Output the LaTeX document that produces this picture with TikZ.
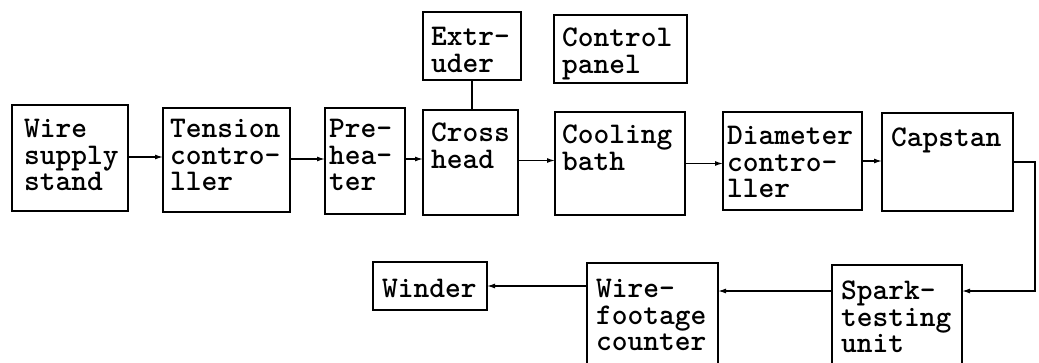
\documentclass[tikz,border=0pt]{standalone}
\usepackage{fontspec}
\usetikzlibrary{arrows.meta}
\tikzset{
  box/.style={draw, line width=1.6pt, inner sep=0pt, outer sep=0pt, anchor=north west},
  txt/.style={anchor=north west, inner sep=0pt, align=left, font=\ttfamily\bfseries\fontsize{30}{26.5}\selectfont},
  conn/.style={line width=1.3pt, -{Latex[length=8pt,width=5pt]}},
  plain/.style={line width=1.3pt}
}
\begin{document}
\begin{tikzpicture}[x=1pt,y=-1pt]
\useasboundingbox (0,0) rectangle (1039,362);
% boxes
\node[box, minimum width=116pt, minimum height=106pt] (ws) at (12,105) {};
\node[box, minimum width=127pt, minimum height=104pt] (tc) at (163,108) {};
\node[box, minimum width=80pt, minimum height=106pt] (ph) at (325,108) {};
\node[box, minimum width=95pt, minimum height=105pt] (ch) at (423,110) {};
\node[box, minimum width=130pt, minimum height=103pt] (cb) at (555,112) {};
\node[box, minimum width=139pt, minimum height=98pt] (dc) at (723,112) {};
\node[box, minimum width=131pt, minimum height=98pt] (cap) at (882,113) {};
\node[box, minimum width=98pt, minimum height=68pt] (ex) at (423,12) {};
\node[box, minimum width=133pt, minimum height=68pt] (cp) at (554,15) {};
\node[box, minimum width=130pt, minimum height=130pt] (sp) at (832,265) {};
\node[box, minimum width=131pt, minimum height=130pt] (wf) at (587,263) {};
\node[box, minimum width=114pt, minimum height=48pt] (wi) at (373,262) {};
% texts
\node[txt] (wsT) at ([shift={(12,14)}]ws.north west) {Wire\\supply\\stand};
\node[txt] (tcT) at ([shift={(7,11)}]tc.north west) {Tension\\contro-\\ller};
\node[txt] (phT) at ([shift={(4,11)}]ph.north west) {Pre-\\hea-\\ter};
\node[txt] (chT) at ([shift={(8,13)}]ch.north west) {Cross\\head};
\node[txt] (cbT) at ([shift={(7,13)}]cb.north west) {Cooling\\bath};
\node[txt] (dcT) at ([shift={(4,14)}]dc.north west) {Diameter\\contro-\\ller};
\node[txt] (capT) at ([shift={(9,15)}]cap.north west) {Capstan};
\node[txt] (exT) at ([shift={(8,15)}]ex.north west) {Extr-\\uder};
\node[txt] (cpT) at ([shift={(8,13)}]cp.north west) {Control\\panel};
\node[txt] (spT) at ([shift={(9,16)}]sp.north west) {Spark-\\testing\\unit};
\node[txt] (wfT) at ([shift={(9,16)}]wf.north west) {Wire-\\footage\\counter};
\node[txt] (wiT) at ([shift={(9,17)}]wi.north west) {Winder};
% connectors
\draw[conn] ([yshift=1pt]ws.east) -- ([yshift=1pt]ws.east -| tc.west);
\draw[conn] ([yshift=1pt]tc.east) -- ([yshift=1pt]tc.east -| ph.west);
\draw[conn] ([yshift=2pt]ph.east) -- ([yshift=2pt]ph.east -| ch.west);
\draw[conn] ([yshift=2pt]ch.east) -- ([yshift=2pt]ch.east -| cb.west);
\draw[conn] (cb.east) -- (cb.east -| dc.west);
\draw[conn] (dc.east) -- (dc.east -| cap.west);
\coordinate (spE) at ([yshift=-26pt]sp.north east);
\coordinate (spW) at ([yshift=-26pt]sp.north west);
\draw[conn] (cap.east) -- ++(22,0) |- (spE);
\draw[conn] (spW) -- (spW -| wf.east);
\draw[conn] (wi.east -| wf.west) -- (wi.east);
\draw[plain] (ex.south) -- (ex.south |- ch.north);
\end{tikzpicture}
\end{document}
